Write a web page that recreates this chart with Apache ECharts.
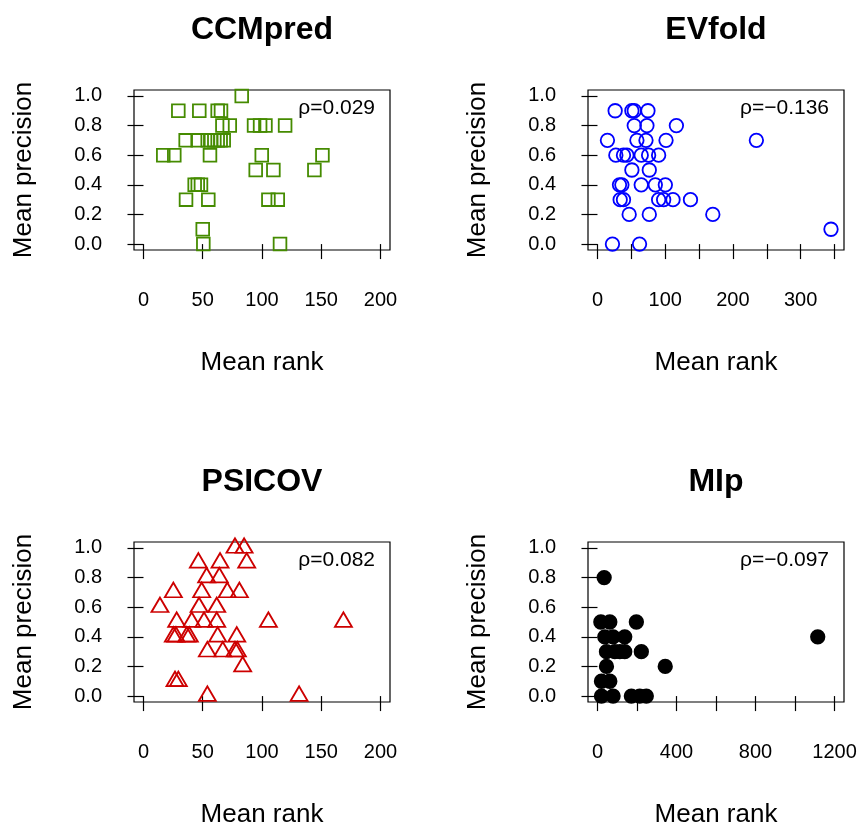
<!DOCTYPE html>
<html>
<head>
<meta charset="utf-8">
<title>Mean rank vs mean precision</title>
<script src="https://cdn.jsdelivr.net/npm/echarts@6/dist/echarts.min.js"></script>
<style>
  html, body { margin: 0; padding: 0; background: #fff; }
  #chart { width: 860px; height: 828px; }
</style>
</head>
<body>
<div id="chart"></div>
<script>
// data: [mean rank, mean precision]
const ccmpredPoints = [
  [82.9, 1.0],
  [29.4, 0.9], [47.1, 0.9], [62.6, 0.9], [65.4, 0.9],
  [66.6, 0.8], [72.8, 0.8], [93.3, 0.8], [98.4, 0.8], [102.9, 0.8], [119.5, 0.8],
  [35.6, 0.7], [45.7, 0.7], [54.2, 0.7], [57.0, 0.7], [59.8, 0.7], [62.6, 0.7], [65.1, 0.7], [67.7, 0.7],
  [16.7, 0.6], [26.0, 0.6], [56.1, 0.6], [99.8, 0.6], [151.0, 0.6],
  [94.7, 0.5], [109.6, 0.5], [144.2, 0.5],
  [43.2, 0.4], [45.8, 0.4], [48.5, 0.4],
  [35.9, 0.3], [54.7, 0.3], [105.4, 0.3], [113.3, 0.3],
  [50.0, 0.1],
  [50.5, 0.0], [115.2, 0.0]
];
const evfoldPoints = [
  [26.1, 0.9], [50.8, 0.9], [54.3, 0.9], [74.5, 0.9],
  [54.3, 0.8], [73.0, 0.8], [116.5, 0.8],
  [14.7, 0.7], [58.2, 0.7], [71.6, 0.7], [101.2, 0.7], [234.6, 0.7],
  [27.1, 0.6], [38.4, 0.6], [43.4, 0.6], [64.6, 0.6], [75.5, 0.6], [90.3, 0.6],
  [50.8, 0.5], [76.5, 0.5],
  [32.5, 0.4], [36.0, 0.4], [64.6, 0.4], [85.4, 0.4], [100.2, 0.4],
  [33.5, 0.3], [38.4, 0.3], [90.3, 0.3], [97.7, 0.3], [111.5, 0.3], [137.3, 0.3],
  [46.8, 0.2], [76.5, 0.2], [170.3, 0.2],
  [344.8, 0.1],
  [22.1, 0.0], [62.1, 0.0]
];
const psicovPoints = [
  [77.2, 1.0], [84.9, 1.0],
  [46.3, 0.9], [64.6, 0.9], [87.1, 0.9],
  [53.3, 0.8], [64.0, 0.8],
  [25.2, 0.7], [49.1, 0.7], [70.7, 0.7], [80.9, 0.7],
  [13.9, 0.6], [46.9, 0.6], [61.8, 0.6],
  [28.0, 0.5], [40.7, 0.5], [51.1, 0.5], [61.8, 0.5], [105.4, 0.5], [168.7, 0.5],
  [25.2, 0.4], [27.4, 0.4], [36.5, 0.4], [38.7, 0.4], [62.6, 0.4], [78.7, 0.4],
  [53.9, 0.3], [66.9, 0.3], [77.2, 0.3], [79.2, 0.3],
  [83.7, 0.2],
  [26.6, 0.1], [29.4, 0.1],
  [53.9, 0.0], [131.3, 0.0]
];
const mipPoints = [
  [33.8, 0.8],
  [17.0, 0.5], [62.4, 0.5], [196.8, 0.5],
  [37.1, 0.4], [79.0, 0.4], [138.0, 0.4], [1115.0, 0.4],
  [45.5, 0.3], [87.8, 0.3], [113.0, 0.3], [138.0, 0.3], [222.0, 0.3],
  [45.5, 0.2], [343.0, 0.2],
  [20.2, 0.1], [62.4, 0.1],
  [20.2, 0.0], [79.0, 0.0], [171.5, 0.0], [213.9, 0.0], [247.2, 0.0]
];

const panelNames = ['CCMpred', 'EVfold', 'PSICOV', 'MIp'];
const rhoLabels = ['ρ=0.029', 'ρ=\u22120.136', 'ρ=0.082', 'ρ=\u22120.097'];
const xTicks = [
  [0, 50, 100, 150, 200],
  [0, 50, 100, 150, 200, 250, 300, 350],
  [0, 50, 100, 150, 200],
  [0, 200, 400, 600, 800, 1000, 1200]
];
const xTickLabels = [
  [0, 50, 100, 150, 200],
  [0, 100, 200, 300],
  [0, 50, 100, 150, 200],
  [0, 400, 800, 1200]
];
const yTicks = [0, 0.2, 0.4, 0.6, 0.8, 1.0];

// layout: plot boxes and the axis ranges R used (4% padding)
const boxes = [
  { left: 134, top: 90, xMin: -8, xMax: 208 },
  { left: 588, top: 90, xMin: -14, xMax: 364 },
  { left: 134, top: 542, xMin: -8, xMax: 208 },
  { left: 588, top: 542, xMin: -48, xMax: 1248 }
];
const BOX_W = 256, BOX_H = 160;

const markers = [
  { data: ccmpredPoints, symbol: 'rect', size: 12.7, offset: [0, 0], color: '#458B00', fill: 'transparent' },
  { data: evfoldPoints, symbol: 'circle', size: 13.5, offset: [0, 0], color: '#0000FF', fill: 'transparent' },
  { data: psicovPoints, symbol: 'triangle', size: [17, 14.5], offset: [0, -2.4], color: '#CD0000', fill: 'transparent' },
  { data: mipPoints, symbol: 'circle', size: 13.5, offset: [0, 0], color: '#000000', fill: '#000000' }
];

const FONT = '"Liberation Sans", Arial, Helvetica, sans-serif';

const grid = [], xAxis = [], yAxis = [], series = [], graphic = [];

boxes.forEach((b, i) => {
  grid.push({
    left: b.left, top: b.top, width: BOX_W, height: BOX_H,
    show: true, borderColor: '#000', borderWidth: 1.2, backgroundColor: 'transparent'
  });
  xAxis.push({
    gridIndex: i, type: 'value', min: b.xMin, max: b.xMax,
    axisLine: { show: false },
    splitLine: { show: false },
    axisTick: {
      show: true, inside: false, length: 15, customValues: xTicks[i],
      lineStyle: { color: '#000', width: 1.2 }
    },
    axisLabel: {
      show: true, customValues: xTickLabels[i], margin: 40,
      formatter: v => String(v),
      color: '#000', fontSize: 20, fontFamily: FONT
    }
  });
  yAxis.push({
    gridIndex: i, type: 'value', min: -0.04, max: 1.04,
    axisLine: { show: false },
    splitLine: { show: false },
    axisTick: {
      show: true, inside: false, length: 16, customValues: yTicks,
      lineStyle: { color: '#000', width: 1.2 }
    },
    axisLabel: {
      show: true, customValues: yTicks, margin: 32,
      formatter: v => v.toFixed(1),
      color: '#000', fontSize: 20, fontFamily: FONT
    }
  });
  const m = markers[i];
  series.push({
    type: 'scatter', xAxisIndex: i, yAxisIndex: i,
    data: m.data,
    symbol: m.symbol, symbolSize: m.size, symbolOffset: m.offset,
    itemStyle: { color: m.fill, borderColor: m.color, borderWidth: 1.8, opacity: 1 },
    emphasis: { disabled: true },
    silent: true
  });

  const cx = b.left + BOX_W / 2;
  const cy = b.top + BOX_H / 2;
  graphic.push({
    type: 'text', x: cx, y: b.top - 60,
    style: { text: panelNames[i], font: 'bold 32px ' + FONT, fill: '#000', textAlign: 'center', textVerticalAlign: 'middle' }
  });
  graphic.push({
    type: 'text', x: cx, y: b.top + BOX_H + 113,
    style: { text: 'Mean rank', font: '26px ' + FONT, fill: '#000', textAlign: 'center', textVerticalAlign: 'middle' }
  });
  graphic.push({
    type: 'text', x: b.left - 110, y: cy, rotation: Math.PI / 2,
    style: { text: 'Mean precision', font: '26px ' + FONT, fill: '#000', textAlign: 'center', textVerticalAlign: 'middle' }
  });
  graphic.push({
    type: 'text', x: b.left + BOX_W - 15, y: b.top + 18,
    style: { text: rhoLabels[i], font: '21px ' + FONT, fill: '#000', textAlign: 'right', textVerticalAlign: 'middle' }
  });
});

const chart = echarts.init(document.getElementById('chart'), null, { renderer: 'canvas' });
chart.setOption({
  backgroundColor: '#fff',
  animation: false,
  grid, xAxis, yAxis, series, graphic
});
</script>
</body>
</html>
